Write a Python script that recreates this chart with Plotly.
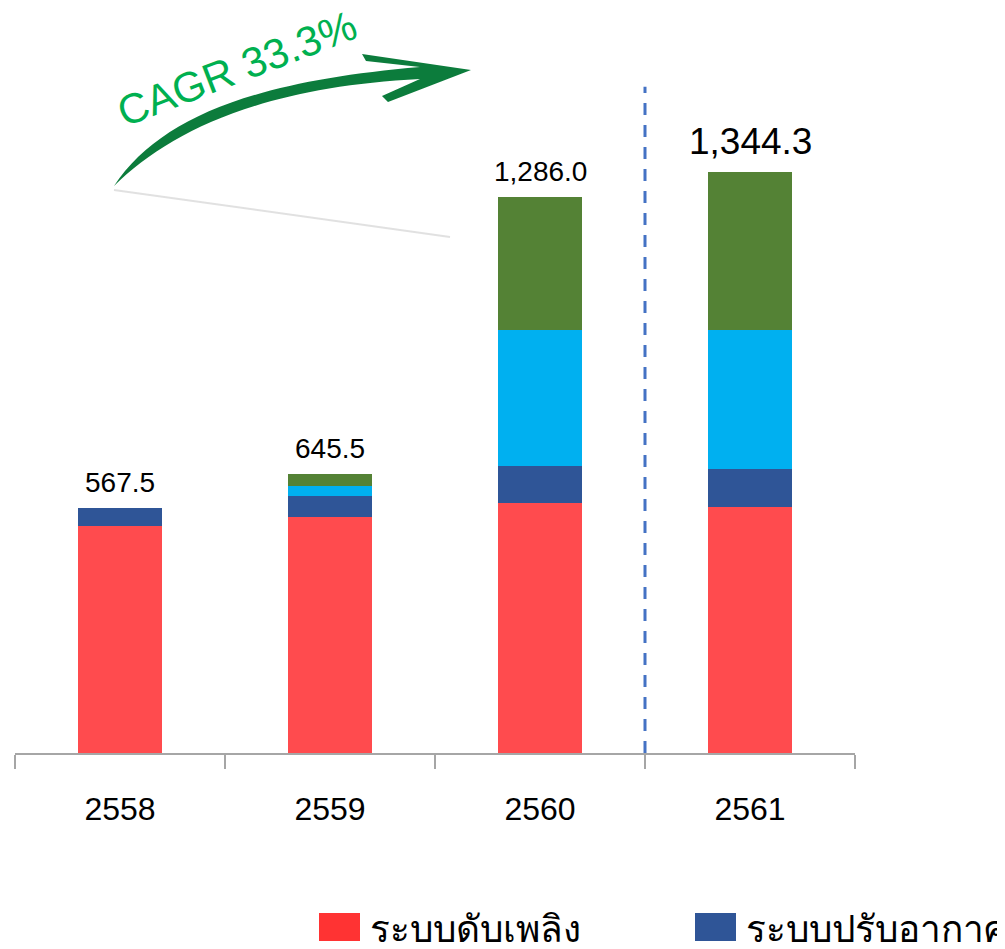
import plotly.graph_objects as go

years = ["2558", "2559", "2560", "2561"]
fire = [526.2, 546.3, 579.4, 570.2]
aircon = [41.3, 47.7, 85.7, 88.0]
seg3 = [0.0, 24.1, 313.2, 320.2]
seg4 = [0.0, 27.4, 307.7, 365.9]
totals = [567.5, 645.5, 1286.0, 1344.3]
total_labels = ["567.5", "645.5", "1,286.0", "1,344.3"]
series_names = ["ระบบดับเพลิง", "ระบบปรับอากาศ", "ระบบอื่น 1", "ระบบอื่น 2"]
series_colors = ["#FF4B4E", "#2F5597", "#00B0F0", "#548235"]
legend_colors = ["#FF3333", "#2F5597"]
cagr_text = "CAGR 33.3%"

OFF = 8  # page body margin
W, H = 1005 - OFF, 949 - OFF
L, R, B, T = 15 - OFF, 150, 196, 0
PW, PH = W - L - R, H - T - B
UNITS_PER_PX = 2.315
YMAX = PH * UNITS_PER_PX


def px(xp):  # page pixel -> paper
    return (xp - OFF - L) / PW


def py(yp):
    return (H - B - (yp - OFF)) / PH


fig = go.Figure()
for name, vals, col in zip(series_names, [fire, aircon, seg3, seg4], series_colors):
    fig.add_trace(go.Bar(x=years, y=vals, name=name, marker=dict(color=col, line=dict(width=0)),
                         showlegend=False))

for i, (tot, lab) in enumerate(zip(totals, total_labels)):
    big = i == len(totals) - 1
    fig.add_annotation(xref="x", yref="y", x=i, y=tot, text=lab, showarrow=False, xanchor="center",
                       yanchor="bottom", yshift=8,
                       font=dict(family="Arial, Liberation Sans", size=37 if big else 28, color="black"))

# dashed divider between 2560 and 2561
fig.add_shape(type="line", xref="x", yref="y", x0=2.5, x1=2.5, y0=0, y1=(753.3 - 87) * UNITS_PER_PX,
              line=dict(color="#4472C4", width=3, dash="12px,10px"))

# faint shadow line under arrow
fig.add_shape(type="line", xref="paper", yref="paper", x0=px(114), y0=py(190), x1=px(450), y1=py(237),
              line=dict(color="rgba(205,205,205,0.6)", width=2))

# curved arrow
pts = [("M", [(114, 186)]),
       ("C", [(160, 117), (255, 81), (420, 67)]),
       ("L", [(366, 61)]), ("L", [(362, 54)]), ("L", [(471, 70)]),
       ("L", [(388, 102)]), ("L", [(382, 96)]), ("L", [(420, 79)]),
       ("C", [(262, 87), (170, 131), (114, 186)])]
path = ""
for cmd, ps in pts:
    path += cmd + " " + " ".join(f"{px(a):.5f},{py(b):.5f}" for a, b in ps) + " "
path += "Z"
fig.add_shape(type="path", xref="paper", yref="paper", path=path,
              fillcolor="#0C7C3C", line=dict(width=0))

fig.add_annotation(xref="paper", yref="paper", x=px(237), y=py(69), text=cagr_text, showarrow=False,
                   textangle=-21, xanchor="center", yanchor="middle",
                   font=dict(family="Arial, Liberation Sans", size=42, color="#00B050"))

# legend (manual)
leg_x = [319, 695]
for name, col, lx in zip(series_names[:2], legend_colors, leg_x):
    fig.add_shape(type="rect", xref="paper", yref="paper", x0=px(lx), x1=px(lx + 41),
                  y0=py(941), y1=py(913), fillcolor=col, line=dict(width=0))
    fig.add_annotation(xref="paper", yref="paper", x=px(lx + 49), y=py(929), text=name, showarrow=False,
                       xanchor="left", yanchor="middle",
                       font=dict(family="Liberation Sans, Arial, sans-serif", size=37, color="black"))

fig.update_layout(
    width=W, height=H, margin=dict(l=L, r=R, t=T, b=B),
    paper_bgcolor="white", plot_bgcolor="white",
    barmode="stack", bargap=0.6, showlegend=False,
    xaxis=dict(type="category", range=[-0.5, 3.5], showline=True, linecolor="#A6A6A6", linewidth=1.5,
               ticks="outside", tickson="boundaries", ticklen=14, tickcolor="#A6A6A6", tickwidth=1.5,
               showgrid=False, tickfont=dict(family="Arial, Liberation Sans", size=32, color="black"),
               ticklabelstandoff=27),
    yaxis=dict(visible=False, range=[0, YMAX], showgrid=False, zeroline=False),
)
fig.write_html("out.html")
